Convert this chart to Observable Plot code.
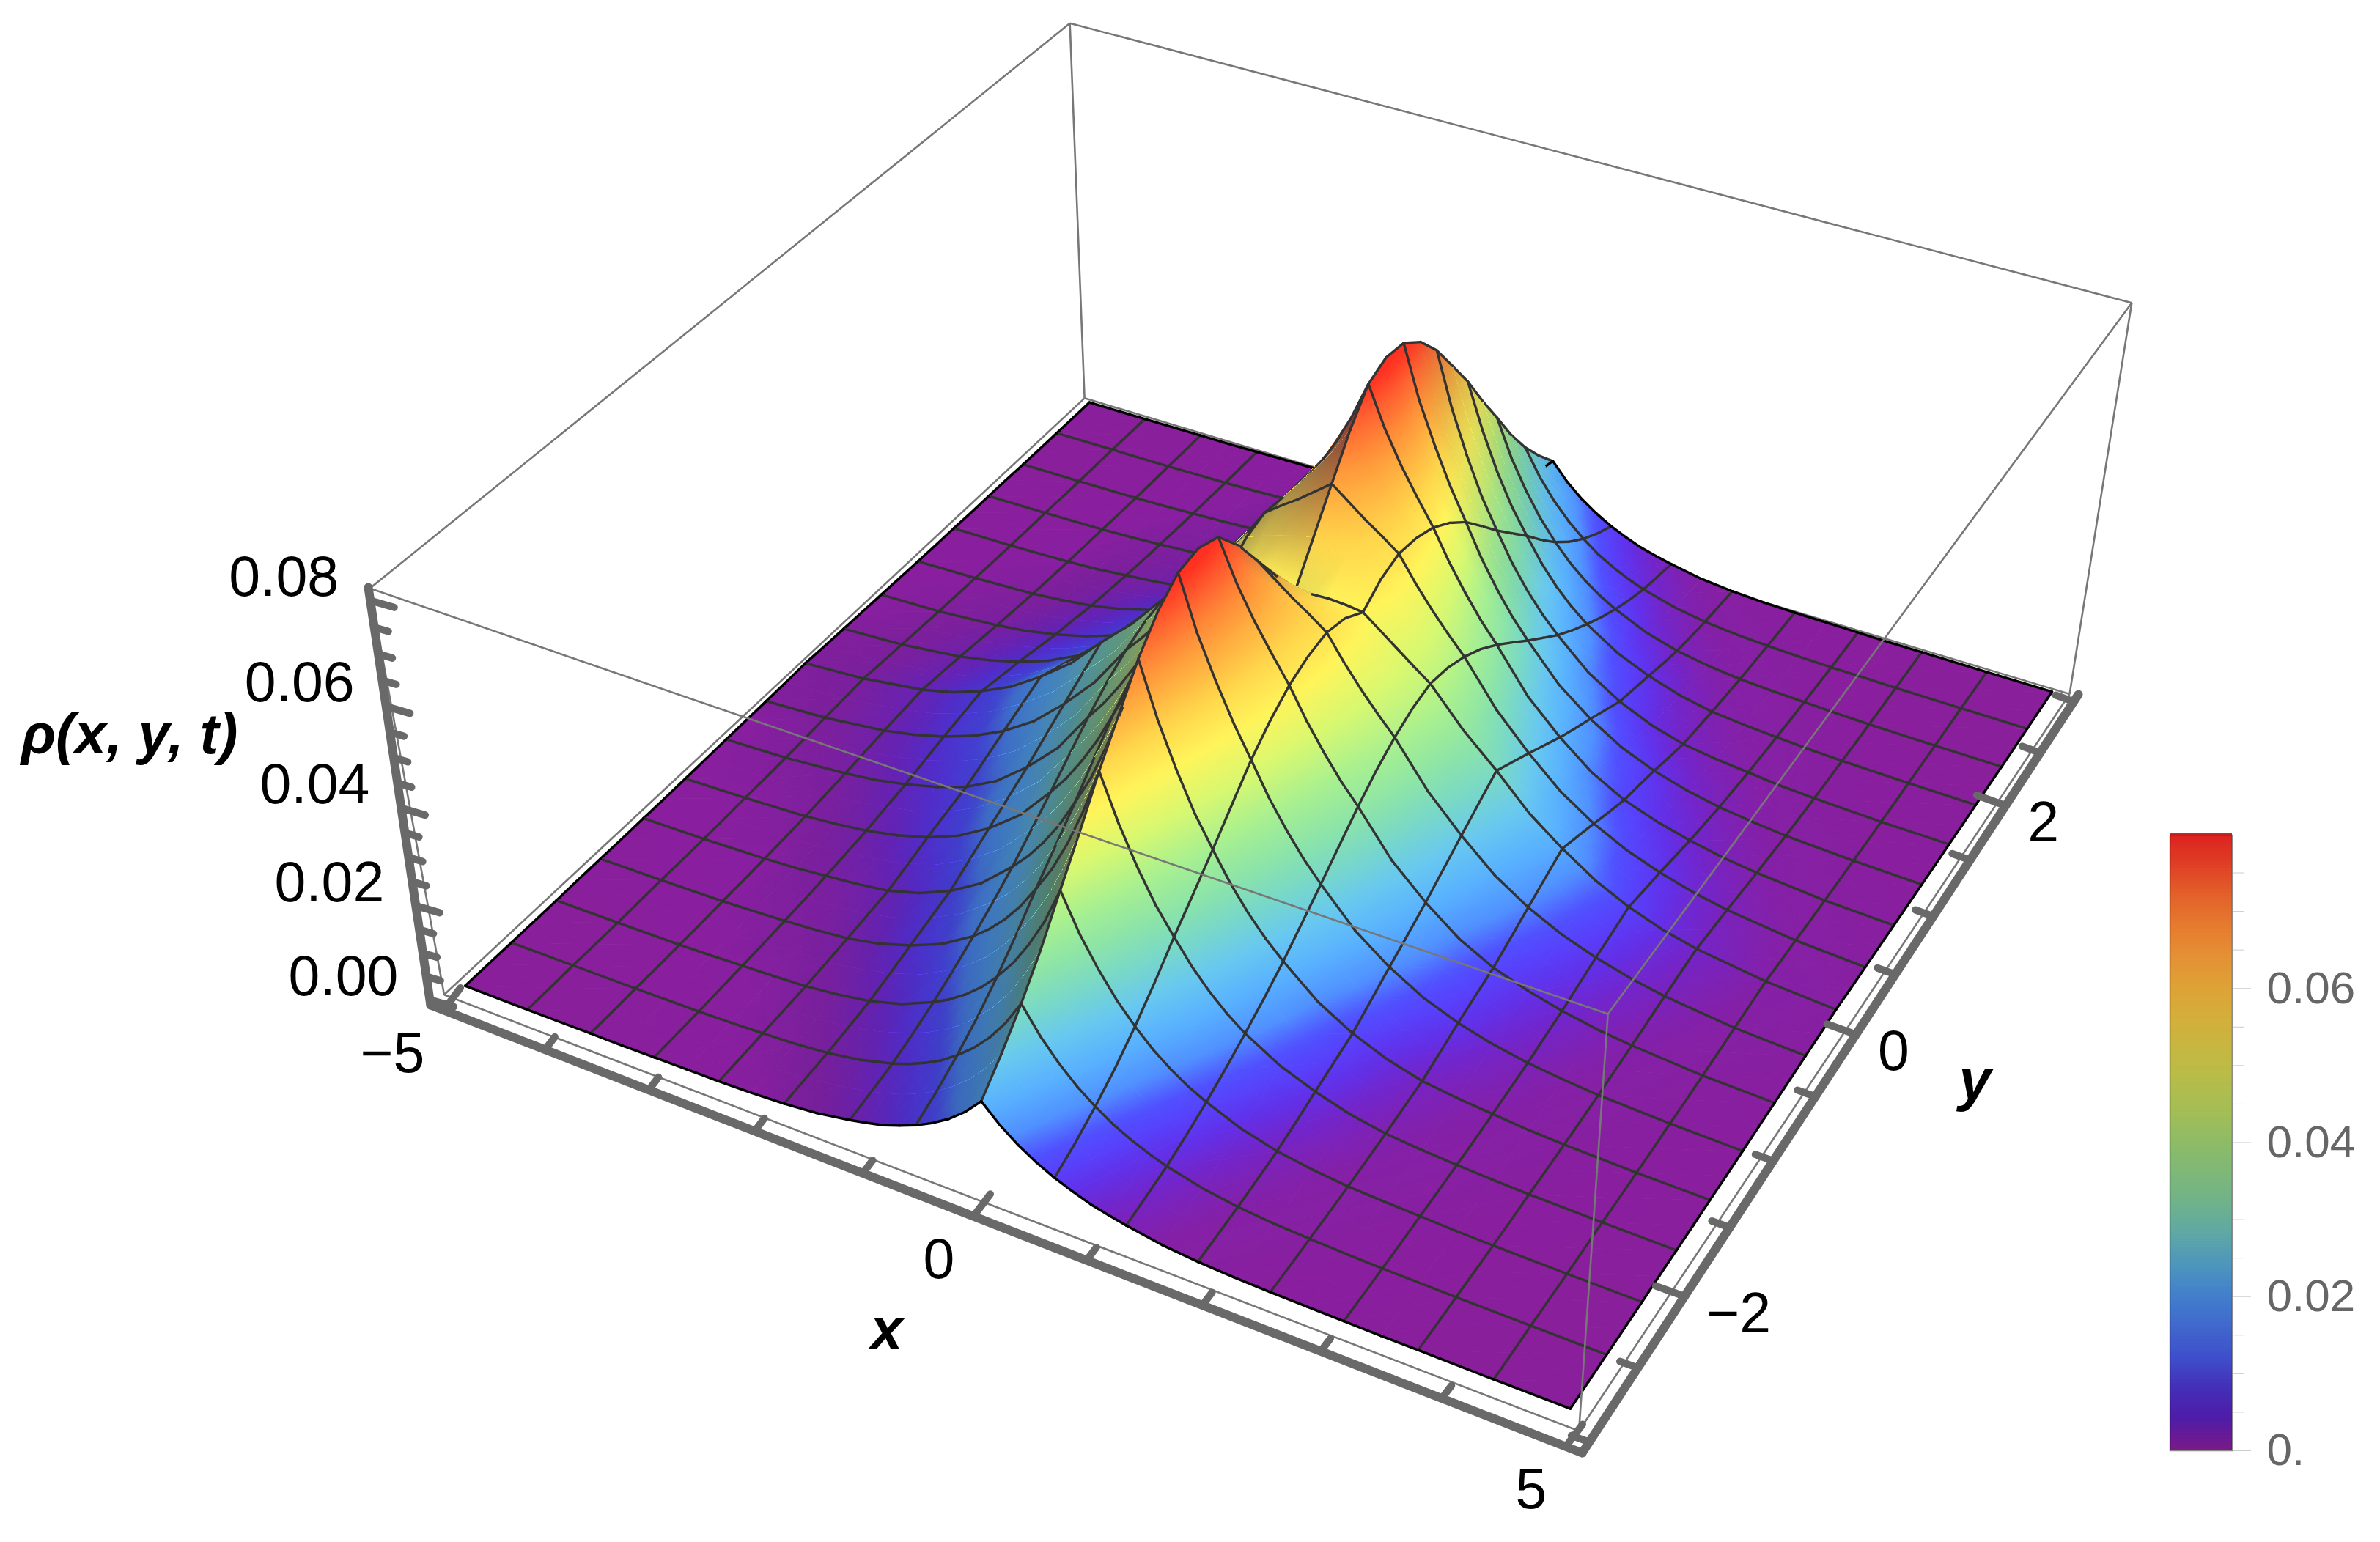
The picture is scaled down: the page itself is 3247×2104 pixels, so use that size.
<!DOCTYPE html>
<html><head><meta charset="utf-8">
<style>html,body{margin:0;padding:0;background:#fff;width:3247px;height:2104px;overflow:hidden;position:relative}</style>
<script src="https://cdn.jsdelivr.net/npm/d3@7"></script>
<script src="https://cdn.jsdelivr.net/npm/@observablehq/plot@0.6"></script>
</head><body><script>
// Surface values, units of 1e-4. Columns are |x|, rows run from y=-3 to y=0: the surface is mirror-symmetric in x and in y.
const xAbs = [0,0.15625,0.3125,0.46875,0.625,0.78125,0.9375,1.09375,1.25,1.5625,1.875,2.1875,2.5,2.8125,3.125,3.4375,3.75,4.375,5];
const yStep = 0.1875;
const rho00 = [183,146,117,94,75,60,47,38,30,17,10,6,4,3,2,1,1,0,0];
const rho01 = [232,187,150,121,97,78,62,50,40,25,15,9,6,4,3,2,1,0,0];
const rho02 = [288,233,189,153,124,99,80,64,51,32,20,13,9,6,4,3,2,1,0];
const rho03 = [352,287,234,191,156,126,102,83,67,43,27,18,12,8,6,4,2,1,0];
const rho04 = [426,349,288,236,194,158,129,105,86,55,35,23,15,11,8,5,3,1,0];
const rho05 = [498,414,344,286,238,195,160,132,108,71,47,31,20,14,10,6,4,2,1];
const rho06 = [575,483,405,339,286,236,195,161,133,90,61,39,25,18,13,9,6,3,1];
const rho07 = [643,544,460,390,330,275,230,191,160,109,74,48,31,22,16,11,7,3,1];
const rho08 = [710,602,514,437,375,316,267,225,190,129,87,57,37,27,20,13,9,4,2];
const rho09 = [762,653,565,489,423,361,309,264,225,157,110,74,50,35,25,17,11,5,2];
const rho10 = [795,690,608,534,470,405,350,301,260,186,133,92,64,44,30,21,14,7,3];
const rho11 = [802,708,634,567,507,444,388,340,297,214,155,109,76,53,38,26,18,8,4];
const rho12 = [785,707,643,588,536,475,422,374,333,243,178,124,87,63,45,31,22,10,5];
const rho13 = [730,678,633,592,553,498,449,405,365,272,204,146,105,76,55,39,27,12,6];
const rho14 = [660,634,608,585,560,511,467,427,390,300,230,169,124,90,65,46,32,15,7];
const rho15 = [590,582,572,561,548,513,478,443,408,322,255,190,142,102,73,51,36,17,8];
const rho16 = [520,524,526,524,520,494,468,442,417,342,280,212,160,115,82,57,40,20,10];
const halfRows = [rho00,rho01,rho02,rho03,rho04,rho05,rho06,rho07,rho08,rho09,rho10,rho11,rho12,rho13,rho14,rho15,rho16];
const mirrorX = row => [...row.slice(1).reverse(), ...row];
const xGrid = [...xAbs.slice(1).reverse().map(v=>-v), ...xAbs];
const rhoRows = [...halfRows, ...halfRows.slice(0,-1).reverse()].map(mirrorX);

const xTicks = [-5,-4,-3,-2,-1,0,1,2,3,4,5];
const xLabelled = [-5,0,5];
const yTicks = [-3,-2.5,-2,-1.5,-1,-0.5,0,0.5,1,1.5,2,2.5,3];
const yLabelled = [-2,0,2];
const zTicks = [0,0.005,0.01,0.015,0.02,0.025,0.03,0.035,0.04,0.045,0.05,0.055,0.06,0.065,0.07,0.075,0.08];
const zLabelled = [0,0.02,0.04,0.06,0.08];
const barMajor = [0,0.02,0.04,0.06];
const barMinor = [0.005,0.01,0.015,0.025,0.03,0.035,0.045,0.05,0.055,0.065,0.07,0.075];

// colours of the lit surface and of the (unlit) colour bar
const surfaceStops = [0,0.002,0.004,0.006,0.008,0.010,0.013,0.017,0.022,0.027,0.032,0.038,0.045,0.052,0.058,0.064,0.069,0.074,0.079];
const surfaceColors = ["#8a1f9c","#8420a8","#7424c8","#6230e8","#5840fa","#5050ff","#5090ff","#58b0ff","#68c8f0","#78d8c8","#8ce4a8","#a8f090","#d8f870","#fff45a","#ffd84c","#ffb040","#ff8c38","#ff6030","#ff2c20"];
const barStops = [0,0.004,0.008,0.012,0.02,0.024,0.028,0.032,0.038,0.044,0.05,0.056,0.06,0.064,0.068,0.072,0.076,0.08];
const barColors = ["#781a88","#4f1ca8","#4430b8","#3f50cc","#4280cc","#4e96bc","#5fa8a4","#70b28a","#86ba6e","#a4be55","#bfbb45","#d4ae3a","#dea237","#e49034","#e67a2f","#e2602a","#df3e25","#dc2020"];
const surfaceScale = Plot.scale({color:{type:"linear",domain:surfaceStops,range:surfaceColors,clamp:true,interpolate:"rgb"}});

// Box of the 3D view and the camera calibration (3D box corner -> page position).
const px = 0.13, py = 0.072, zLow = -0.0012, zTop = 0.0824;
const X0=-5-px, X1=5+px, Y0=-3-py, Y1=3+py;
const calibration = [
  [X0,Y0,zLow,600,1354],[X1,Y0,zLow,2159,1941],[X1,Y1,zLow,2832,944],[X0,Y1,zLow,1475,540],
  [X0,Y0,zTop,502,801],[X1,Y0,zTop,2191,1388],[X1,Y1,zTop,2905,410],[X0,Y1,zTop,1465,31],
  [-5,-3,0,641,1347],[5,-3,0,2139,1930],[5,3,0,2792,947],[-5,3,0,1485,553]
];
function fitCamera(anchors){
  const n=11, A=Array.from({length:n},()=>new Array(n+1).fill(0));
  const add=(r,b)=>{for(let i=0;i<n;i++){for(let j=0;j<n;j++)A[i][j]+=r[i]*r[j];A[i][n]+=r[i]*b;}};
  for(const [x,y,z,sx,sy] of anchors){
    const u=x/5,v=y/3,w=z/0.08,a=sx/1000,b=sy/1000;
    add([u,v,w,1,0,0,0,0,-a*u,-a*v,-a*w],a);
    add([0,0,0,0,u,v,w,1,-b*u,-b*v,-b*w],b);
  }
  for(let c=0;c<n;c++){
    let m=c;for(let r=c+1;r<n;r++)if(Math.abs(A[r][c])>Math.abs(A[m][c]))m=r;
    [A[c],A[m]]=[A[m],A[c]];
    for(let r=0;r<n;r++){if(r===c)continue;const f=A[r][c]/A[c][c];for(let k=c;k<=n;k++)A[r][k]-=f*A[c][k];}
  }
  return A.map((row,i)=>row[n]/row[i]);
}
const H = fitCamera(calibration);
function project(x,y,z){
  const u=x/5,v=y/3,w=z/0.08,d=H[8]*u+H[9]*v+H[10]*w+1;
  return [1000*(H[0]*u+H[1]*v+H[2]*w+H[3])/d, 1000*(H[4]*u+H[5]*v+H[6]*w+H[7])/d];
}

const yGrid = rhoRows.map((_,i)=>-3+i*yStep);
const nRow=yGrid.length, nCol=xGrid.length;
const zAt=(i,j)=>rhoRows[i][j]*1e-4;
const P=(i,j)=>project(xGrid[j],yGrid[i],zAt(i,j));
const isMeshX=j=>Math.abs(xGrid[j]/0.625-Math.round(xGrid[j]/0.625))<1e-6;
const isMeshY=i=>i%2===0;
function facing(i,j){
  if(i<0||j<0||i>=nRow-1||j>=nCol-1)return false;
  const q=[P(i,j),P(i,j+1),P(i+1,j+1),P(i+1,j)];
  let a=0;for(let k=0;k<4;k++){const [x1,y1]=q[k],[x2,y2]=q[(k+1)%4];a+=x1*y2-x2*y1;}
  return a<0;
}
// light: slopes rising towards +x or falling steeply towards +y turn away from the light. The crease at x=0 keeps each side's slope.
function nodeShade(i,j,cellJ){
  let a=Math.max(0,j-1),b=Math.min(nCol-1,j+1);
  if(xGrid[j]===0){ if(cellJ<j)b=j; else a=j; }
  const dzdx=(zAt(i,b)-zAt(i,a))/(xGrid[b]-xGrid[a]);
  const c=Math.max(0,i-1),d=Math.min(nRow-1,i+1);
  const dzdy=(zAt(d,j)-zAt(c,j))/(yGrid[d]-yGrid[c]);
  return Math.min(0.55,2.6*Math.sqrt(Math.max(0,dzdx-0.001))+1.0*Math.sqrt(Math.max(0,-dzdy-0.02)));
}
const seg=(id,a,b)=>[{id,px:a[0],py:a[1]},{id,px:b[0],py:b[1]}];

// Shading of one triangle: a linear gradient that is exact at its three corners.
const defs=[];let gradId=0;
function gradientVector(p,v){
  const dx1=p[1][0]-p[0][0],dy1=p[1][1]-p[0][1],dx2=p[2][0]-p[0][0],dy2=p[2][1]-p[0][1];
  const dv1=v[1]-v[0],dv2=v[2]-v[0],det=dx1*dy2-dx2*dy1;
  let a=0,b=0;
  if(Math.abs(det)>1e-6){a=(dv1*dy2-dv2*dy1)/det;b=(dx1*dv2-dx2*dv1)/det;}
  const lo=v.indexOf(Math.min(...v)),vmin=v[lo],vmax=Math.max(...v),g=a*a+b*b;
  const k=g>0?(vmax-vmin)/g:0;
  return {x1:p[lo][0],y1:p[lo][1],x2:p[lo][0]+a*k,y2:p[lo][1]+b*k,vmin,vmax};
}
function colorGradient(p,v){
  const g=gradientVector(p,v),id=`c${gradId++}`;
  let s="";for(const t of [0,0.2,0.4,0.6,0.8,1])s+=`<stop offset="${t}" stop-color="${surfaceScale.apply(g.vmin+t*(g.vmax-g.vmin))}"/>`;
  defs.push(`<linearGradient id="${id}" gradientUnits="userSpaceOnUse" x1="${g.x1}" y1="${g.y1}" x2="${g.x2}" y2="${g.y2}">${s}</linearGradient>`);
  return `url(#${id})`;
}
function shadeGradient(p,v){
  const g=gradientVector(p,v),id=`s${gradId++}`;
  defs.push(`<linearGradient id="${id}" gradientUnits="userSpaceOnUse" x1="${g.x1}" y1="${g.y1}" x2="${g.x2}" y2="${g.y2}"><stop offset="0" stop-color="#101840" stop-opacity="${g.vmin}"/><stop offset="1" stop-color="#101840" stop-opacity="${g.vmax}"/></linearGradient>`);
  return `url(#${id})`;
}

const box=(x,y,z)=>project(x,y,z);
const cA=box(X0,Y0,zLow),cB=box(X1,Y0,zLow),cC=box(X1,Y1,zLow),cD=box(X0,Y1,zLow);
const tA=box(X0,Y0,zTop),tB=box(X1,Y0,zTop),tC=box(X1,Y1,zTop),tD=box(X0,Y1,zTop);
const thinBack=[[cD,cA],[cD,cC],[cA,cB],[cB,cC],[cD,tD],[cA,tA],[cC,tC],[tA,tD],[tD,tC]];
const thinFront=[[tA,tB],[tB,tC],[cB,tB]];
const linkOf=(data,o)=>Plot.link(data,{x1:d=>d[0][0],y1:d=>d[0][1],x2:d=>d[1][0],y2:d=>d[1][1],...o});

const marks=[ linkOf(thinBack,{stroke:"#777",strokeWidth:2.6}) ];
const paint={value:"paint",scale:null};

// painter's order: far rows first; in each row the part left of the crease, then the part right of it
for(let i=nRow-2;i>=0;i--){
  const mesh=[],edge=[];
  const zero=xGrid.indexOf(0);
  for(const [from,to] of [[0,zero],[zero,nCol-1]]){
    const tris=[],shades=[];
    for(let j=from;j<to;j++){
      const nodes=[[i,j],[i,j+1],[i+1,j+1],[i+1,j]];
      const q=nodes.map(([a,b])=>P(a,b));
      const vals=nodes.map(([a,b])=>zAt(a,b));
      const sh=nodes.map(([a,b])=>nodeShade(a,b,j));
      for(const [t,idx] of [[0,[0,1,2]],[1,[0,2,3]]]){
        const p=idx.map(k=>q[k]);
        const fillUrl=colorGradient(p,idx.map(k=>vals[k]));
        const shadeUrl=shadeGradient(p,idx.map(k=>sh[k]));
        for(const c of p){
          tris.push({id:`${j}-${t}`,px:c[0],py:c[1],paint:fillUrl});
          shades.push({id:`${j}-${t}`,px:c[0],py:c[1],paint:shadeUrl});
        }
      }
      const f=facing(i,j);
      if(isMeshY(i+1)&&f&&i+1<nRow-1)mesh.push(...seg(`t${j}`,q[3],q[2]));
      if(isMeshY(i)&&i>0&&f&&!facing(i-1,j))mesh.push(...seg(`b${j}`,q[0],q[1]));
      if(j>0&&isMeshX(j)&&(f||facing(i,j-1)))mesh.push(...seg(`l${j}`,q[0],q[3]));
      if(i===0)edge.push(...seg(`f${j}`,q[0],q[1]));
      if(i===nRow-2)edge.push(...seg(`k${j}`,q[3],q[2]));
      if(j===0)edge.push(...seg(`a`,q[0],q[3]));
      if(j===nCol-2)edge.push(...seg(`e`,q[1],q[2]));
    }
    marks.push(Plot.line(tris,{x:"px",y:"py",z:"id",fill:paint,stroke:paint,strokeWidth:1,curve:"linear-closed"}));
    marks.push(Plot.line(shades,{x:"px",y:"py",z:"id",fill:paint,stroke:"none",shapeRendering:"crispEdges",curve:"linear-closed"}));
  }
  marks.push(Plot.line(mesh,{x:"px",y:"py",z:"id",stroke:"#333",strokeWidth:3.4}));
  marks.push(Plot.line(edge,{x:"px",y:"py",z:"id",stroke:"#000",strokeWidth:3.4}));
}
marks.push(linkOf(thinFront,{stroke:"#777",strokeWidth:2.6}));

// thick axes: tick positions come from the camera, carried over to the offset axis lines
const axA=[587,1371],axB=[2158,1982],axC=[2835,947],axT=[502,801];
const lerp=(a,b,t)=>[a[0]+(b[0]-a[0])*t,a[1]+(b[1]-a[1])*t];
const xBase=v=>{const p=project(v,Y0,zLow);return lerp(axA,axB,(p[0]-cA[0])/(cB[0]-cA[0]));};
const yBase=v=>{const p=project(X1,v,zLow);return lerp(axB,axC,(p[1]-cB[1])/(cC[1]-cB[1]));};
const zBase=v=>{const p=project(X0,Y0,v);return lerp(axA,axT,(p[1]-cA[1])/(tA[1]-cA[1]));};
const along=(p,d,l)=>[p[0]+d[0]*l,p[1]+d[1]*l];
const xDir=[0.6,-0.8],yDir=[-0.94,-0.34],zDir=[0.96,0.28];
const tickLinks=[
  ...xTicks.map(v=>{const b=xBase(v);return [b,along(b,xDir,xLabelled.includes(v)?38:22)];}),
  ...yTicks.map(v=>{const b=yBase(v);return [b,along(b,yDir,yLabelled.includes(v)?42:26)];}),
  ...zTicks.map(v=>{const b=zBase(v);return [b,along(b,zDir,zLabelled.includes(v)?34:20)];})
];
marks.push(linkOf(tickLinks,{stroke:"#696969",strokeWidth:10,strokeLinecap:"round"}));
marks.push(linkOf([[axT,axA],[axA,axB],[axB,axC]],{stroke:"#696969",strokeWidth:12,strokeLinecap:"round"}));

const font="Liberation Sans";
const lab=(data,pos,fmt,o)=>Plot.text(data,{x:d=>pos(d)[0],y:d=>pos(d)[1],text:fmt,fontFamily:font,fontSize:77,fill:"#000",...o});
const minus=v=>String(v).replace("-","\u2212");
marks.push(lab(xLabelled,xBase,minus,{textAnchor:"end",dx:-26,dy:60}));
marks.push(lab(yLabelled,yBase,minus,{textAnchor:"start",dx:30,dy:24}));
marks.push(lab(zLabelled,zBase,v=>v.toFixed(2),{textAnchor:"end",dx:-43,dy:-31}));
const titles=[{t:"x",x:1209,y:1815,s:80},{t:"y",x:2694,y:1474,s:80},{t:"\u03c1(x, y, t)",x:176,y:1003,s:78}];
marks.push(Plot.text(titles,{x:"x",y:"y",text:"t",fontSize:d=>d.s,fontFamily:font,fontWeight:"bold",fontStyle:"italic",fill:"#000"}));

const chart=Plot.plot({
  width:3247,height:2104,margin:0,
  x:{type:"linear",domain:[0,3247],range:[0,3247],axis:null},
  y:{type:"linear",domain:[0,2104],range:[0,2104],axis:null},
  style:{position:"absolute",left:"0",top:"0",background:"transparent"},
  marks
});
const defsEl=document.createElementNS("http://www.w3.org/2000/svg","defs");
defsEl.innerHTML=defs.join("");
chart.prepend(defsEl);
document.body.append(chart);

const barLevels=d3.range(0,0.0799,0.0004);
const bar=Plot.plot({
  width:307,height:880,marginLeft:20,marginRight:202,marginTop:20,marginBottom:20,
  x:{domain:[0,1],axis:null},
  y:{domain:[0,0.0799],axis:null},
  color:{type:"linear",domain:barStops,range:barColors,clamp:true,interpolate:"rgb"},
  style:{position:"absolute",left:"2940px",top:"1119px",background:"transparent",overflow:"visible"},
  marks:[
    Plot.rect(barLevels,{x1:0,x2:1,y1:d=>d,y2:d=>d+0.0005,fill:d=>d}),
    Plot.frame({stroke:"#000",strokeOpacity:0.45,strokeWidth:1.5}),
    Plot.axisY(barMinor,{anchor:"right",tickSize:16,stroke:"#ccc",tickFormat:()=>"",strokeWidth:1}),
    Plot.axisY(barMajor,{anchor:"right",tickSize:25,tickPadding:22,stroke:"#ccc",fill:"#666",strokeWidth:1,fontSize:62,fontFamily:font,tickFormat:d=>d===0?"0.":d.toFixed(2),label:null})
  ]
});
document.body.append(bar);
</script></body></html>
